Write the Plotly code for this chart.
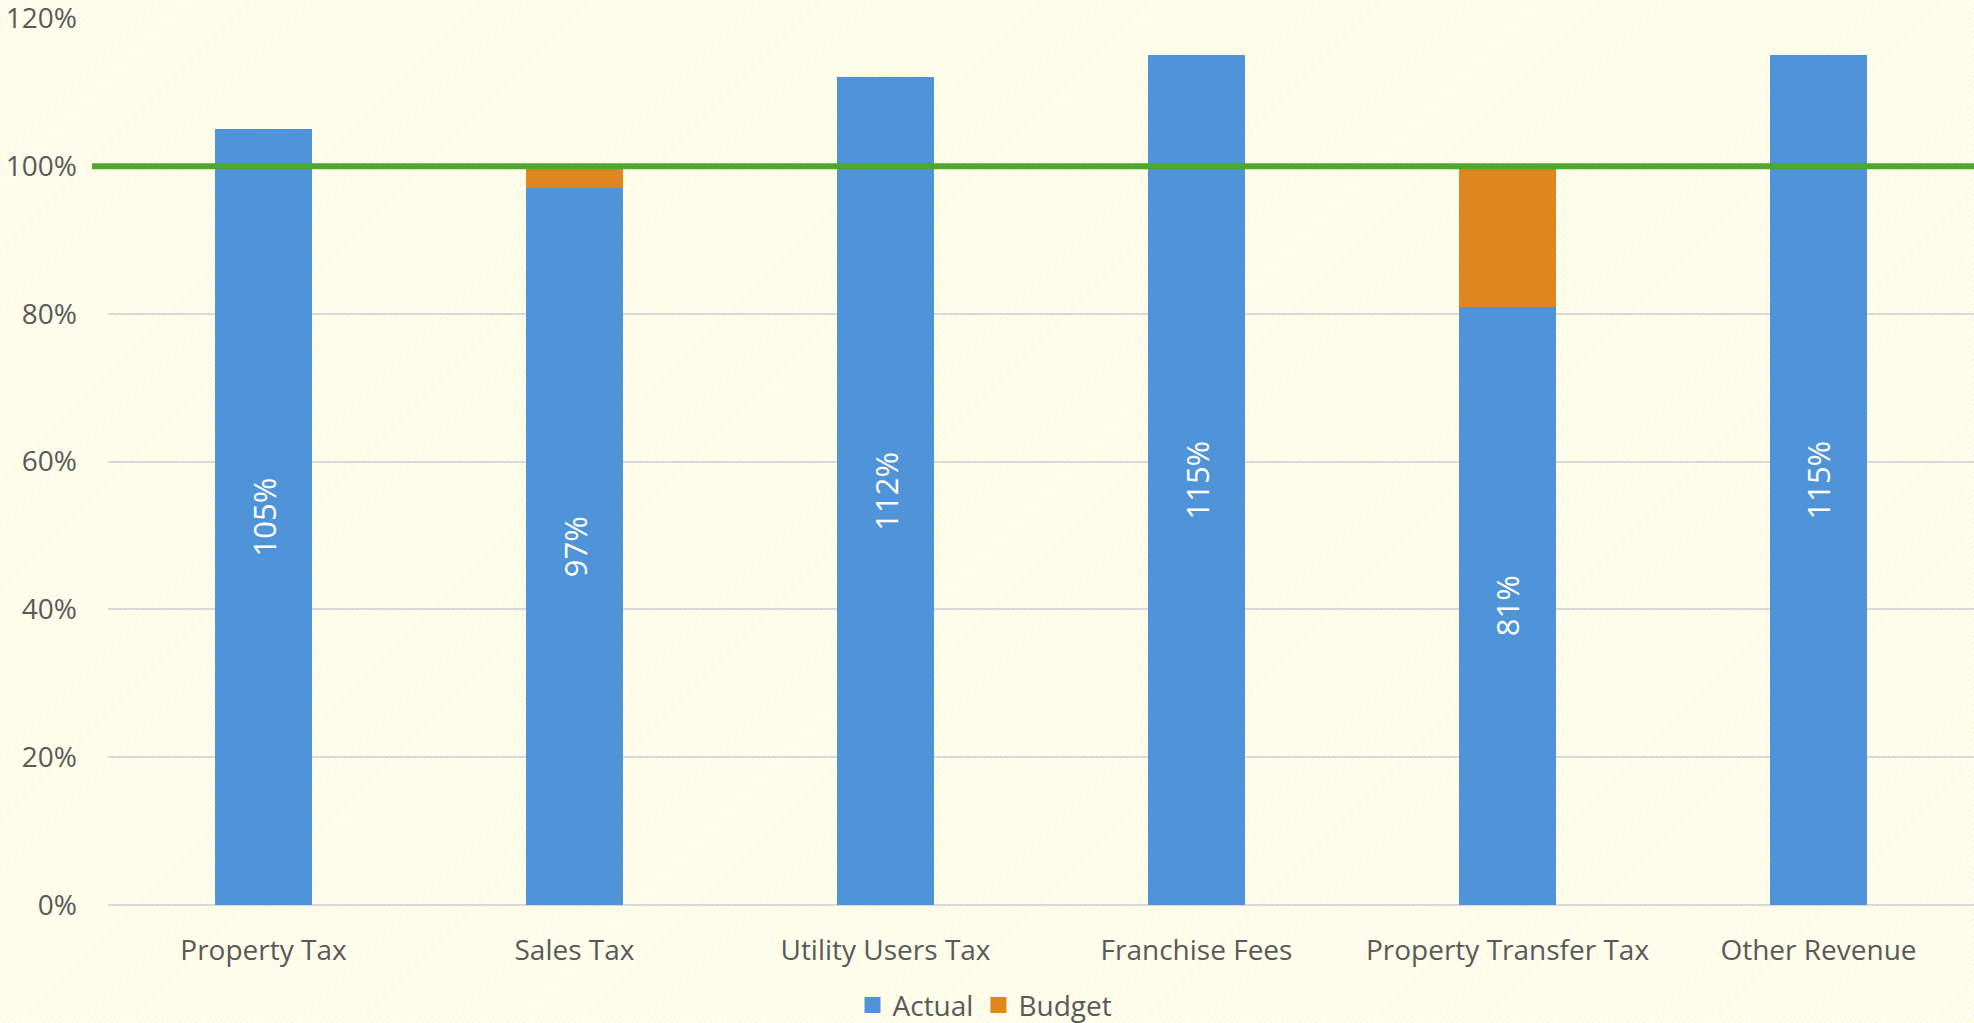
import base64
import plotly.graph_objects as go

categories = ["Property Tax", "Sales Tax", "Utility Users Tax", "Franchise Fees",
              "Property Transfer Tax", "Other Revenue"]
actual = [1.05, 0.97, 1.12, 1.15, 0.81, 1.15]
budget = [0.0, 0.03, 0.0, 0.0, 0.19, 0.0]
actual_labels = ["105%", "97%", "112%", "115%", "81%", "115%"]
target = 1.0
y_ticks = [0, 0.2, 0.4, 0.6, 0.8, 1.0, 1.2]
y_tick_labels = ["0%", "20%", "40%", "60%", "80%", "100%", "120%"]

BLUE = "#4f94d8"
ORANGE = "#e0861f"
GREEN = "#4ea72e"
TEXT = "#595959"
FONT = "Open Sans"

svg = """<svg xmlns='http://www.w3.org/2000/svg' width='1974' height='1023'>
<defs><pattern id='p' width='4' height='4' patternUnits='userSpaceOnUse' patternTransform='rotate(45)'>
<rect width='4' height='4' fill='#ffffff'/><rect width='2' height='4' fill='#fffbd6'/></pattern></defs>
<rect width='1974' height='1023' fill='url(#p)'/></svg>"""
bg_src = "data:image/svg+xml;base64," + base64.b64encode(svg.encode()).decode()

fig = go.Figure()
fig.add_trace(go.Bar(
    x=categories, y=actual, name="Actual", marker=dict(color=BLUE, line=dict(width=0)),
    text=actual_labels, textposition="inside", insidetextanchor="middle",
    textangle=-90, textfont=dict(color="white", size=31, family=FONT),
    hoverinfo="x+y", showlegend=False,
))
fig.add_trace(go.Bar(
    x=categories, y=budget, name="Budget", marker=dict(color=ORANGE, line=dict(width=0)),
    hoverinfo="x+y", showlegend=False,
))
# legend entries with larger square swatches
fig.add_trace(go.Scatter(x=[None], y=[None], mode="markers", name="Actual",
                         marker=dict(symbol="square", size=18, color=BLUE)))
fig.add_trace(go.Scatter(x=[None], y=[None], mode="markers", name="Budget",
                         marker=dict(symbol="square", size=18, color=ORANGE)))

fig.add_shape(type="line", xref="paper", yref="y", x0=-0.0086, x1=1, y0=target, y1=target,
              line=dict(color=GREEN, width=6), layer="above")

W, H = 1974, 1023
L, R, T, B = 108, 0, 18, 118
pw, ph = W - L - R, H - T - B

fig.add_layout_image(dict(
    source=bg_src, xref="paper", yref="paper",
    x=-L / pw, y=1 + T / ph, sizex=W / pw, sizey=H / ph,
    sizing="stretch", layer="below", xanchor="left", yanchor="top",
))

fig.update_layout(
    width=W, height=H,
    margin=dict(l=L, r=R, t=T, b=B, pad=0, autoexpand=False),
    barmode="stack", bargap=0.69,
    paper_bgcolor="rgba(0,0,0,0)", plot_bgcolor="rgba(0,0,0,0)",
    font=dict(family=FONT, color=TEXT, size=28),
    showlegend=True,
    legend=dict(orientation="h", x=0.47, xanchor="center", y=-0.113, yanchor="middle",
                font=dict(size=28, color=TEXT, family=FONT), bgcolor="rgba(0,0,0,0)",
                itemwidth=30, traceorder="normal", itemsizing="trace"),
    xaxis=dict(showgrid=False, showline=False, ticks="", ticklabelstandoff=26,
               automargin=False, tickfont=dict(size=28, color=TEXT, family=FONT)),
    yaxis=dict(range=[0, 1.2005], tickvals=y_ticks, ticktext=y_tick_labels,
               showgrid=True, gridcolor="#d9d9d9", gridwidth=2, zeroline=True,
               zerolinecolor="#d9d9d9", zerolinewidth=2, showline=False, ticks="",
               automargin=False, ticklabeloverflow="allow",
               ticklabelstandoff=30, tickfont=dict(size=28, color=TEXT, family=FONT)),
)

fig.write_html("out.html", config={"displayModeBar": False},
               post_script="document.body.style.margin='0';document.body.style.overflow='hidden';")
